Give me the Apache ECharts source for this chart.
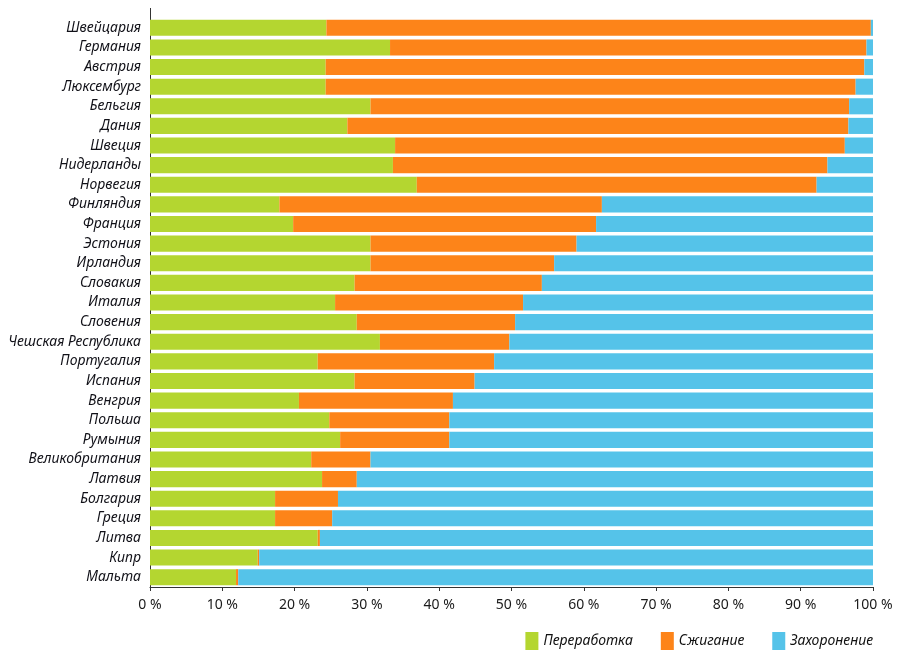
<!DOCTYPE html>
<html><head><meta charset="utf-8">
<script src="https://cdn.jsdelivr.net/npm/echarts@6/dist/echarts.min.js"></script>
<style>html,body{margin:0;padding:0;background:#fff}#c{width:900px;height:655px}</style>
</head><body><div id="c"></div>
<script>
const countries = ['Швейцария','Германия','Австрия','Люксембург','Бельгия','Дания','Швеция','Нидерланды','Норвегия','Финляндия','Франция','Эстония','Ирландия','Словакия','Италия','Словения','Чешская Республика','Португалия','Испания','Венгрия','Польша','Румыния','Великобритания','Латвия','Болгария','Греция','Литва','Кипр','Мальта'];
const recycling    = [24.4,33.2,24.3,24.3,30.5,27.3,33.9,33.6,36.9,17.9,19.8,30.5,30.5,28.3,25.6,28.6,31.8,23.2,28.3,20.6,24.8,26.3,22.3,23.8,17.3,17.3,23.2,14.9,11.9];
const incineration = [75.3,65.9,74.5,73.3,66.2,69.3,62.2,60.1,55.3,44.6,41.9,28.5,25.4,25.9,26.0,21.9,17.9,24.4,16.6,21.3,16.6,15.1,8.2,4.8,8.7,7.9,0.3,0.2,0.3];
const landfill     = [0.3,0.9,1.2,2.4,3.3,3.4,3.9,6.3,7.8,37.5,38.3,41.0,44.1,45.8,48.4,49.5,50.3,52.4,55.1,58.1,58.6,58.6,69.5,71.4,74.0,74.8,76.5,84.9,87.8];
const seriesNames = ['Переработка','Сжигание','Захоронение'];
const colors = ['#b4d630','#fd8419','#55c3e9'];

const chart = echarts.init(document.getElementById('c'), null, {renderer:'canvas'});
const font = 'Noto Sans';
const mk = (name, data, color) => ({
  name, type:'bar', stack:'t', data, barCategoryGap:'18%',
  itemStyle:{color}, emphasis:{disabled:true}
});
chart.setOption({
  animation:false,
  textStyle:{fontFamily:font},
  grid:{left:150, right:27, top:18, bottom:68},
  xAxis:{type:'value', min:0, max:100, interval:10,
    axisLine:{show:true, lineStyle:{color:'#333', width:1}},
    axisTick:{show:true, length:4, lineStyle:{color:'#333'}},
    splitLine:{show:false},
    axisLabel:{formatter:'{value} %', color:'#1a1a1a', fontSize:14, margin:11, fontFamily:font}
  },
  yAxis:{type:'category', data:countries, inverse:true,
    axisLine:{show:true, lineStyle:{color:'#333', width:1}},
    axisTick:{show:false},
    axisLabel:{color:'#111118', fontSize:14, fontStyle:'italic', margin:9, fontFamily:font}
  },
  legend:{data:seriesNames, right:22, top:627, itemWidth:13, itemHeight:18, itemGap:28,
    textStyle:{fontStyle:'italic', fontSize:14, color:'#111', fontFamily:font}, icon:'rect'},
  graphic:[{type:'line', shape:{x1:150.5,y1:8,x2:150.5,y2:18}, style:{stroke:'#333', lineWidth:1}}],
  series:[mk(seriesNames[0], recycling, colors[0]), mk(seriesNames[1], incineration, colors[1]), mk(seriesNames[2], landfill, colors[2])]
});
</script></body></html>
